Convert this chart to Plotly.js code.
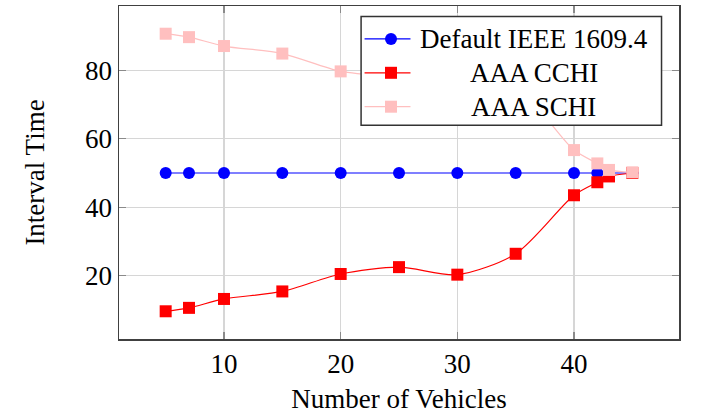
<!DOCTYPE html>
<html>
<head>
<meta charset="utf-8">
<script src="https://cdn.plot.ly/plotly-3.0.1.min.js"></script>
<style>
  html, body { margin: 0; padding: 0; background: #ffffff; }
  #chart { width: 704px; height: 414px; }
</style>
</head>
<body>
<div id="chart"></div>
<script>
// Number of vehicles on the x axis
const vehicles = [5, 7, 10, 15, 20, 25, 30, 35, 40, 42, 43, 45];

// Interval time per scheme
const defaultIEEE = [50, 50, 50, 50, 50, 50, 50, 50, 50, 50, 50, 50];
const aaaCCHI = [9.6, 10.6, 13.2, 15.4, 20.5, 22.5, 20.3, 26.4, 43.5, 47.3, 49.0, 50.0];
const aaaSCHI = [90.7, 89.7, 87.1, 84.9, 79.7, 78.2, 77.0, 75.0, 56.7, 52.8, 50.9, 50.2];

const seriesNames = ['Default IEEE 1609.4', 'AAA CCHI', 'AAA SCHI'];
const seriesColors = ['#0000ff', '#ff0000', '#ffbfbf'];
const seriesSymbols = ['circle', 'square', 'square'];
const xTicks = [10, 20, 30, 40];
const yTicks = [20, 40, 60, 80];

const serif = 'Liberation Serif, Times New Roman, serif';
const fs = 27;

const seriesData = [defaultIEEE, aaaCCHI, aaaSCHI];
const traces = seriesData.map((ys, i) => ({
  x: vehicles, y: ys, name: seriesNames[i],
  mode: 'lines+markers',
  line: i === 0
    ? { color: seriesColors[i], width: 1.2 }
    : { color: seriesColors[i], width: 1.2, shape: 'spline', smoothing: 0.8 },
  marker: { symbol: seriesSymbols[i], size: 12, color: seriesColors[i] }
}));

// Legend box in the upper right, drawn in paper coordinates
const box = { x0: 0.4323, x1: 0.9688, y0: 0.6422, y1: 0.9686 };
const rowY = [0.9012, 0.7994, 0.6976];
const sampleX = [0.4385, 0.5205];
const markX = 0.4857;
const textX = 0.7406;

const shapes = [{
  type: 'rect', xref: 'paper', yref: 'paper', layer: 'above',
  x0: box.x0, x1: box.x1, y0: box.y0, y1: box.y1,
  fillcolor: '#ffffff', line: { color: '#333333', width: 1.5 }
}];
const annotations = [];
seriesNames.forEach((name, i) => {
  shapes.push({
    type: 'line', xref: 'paper', yref: 'paper', layer: 'above',
    x0: sampleX[0], x1: sampleX[1], y0: rowY[i], y1: rowY[i],
    line: { color: seriesColors[i], width: 1.2 }
  });
  shapes.push({
    type: seriesSymbols[i] === 'circle' ? 'circle' : 'rect',
    xref: 'paper', yref: 'paper', layer: 'above',
    xsizemode: 'pixel', ysizemode: 'pixel',
    xanchor: markX, yanchor: rowY[i],
    x0: -6, x1: 6, y0: -6, y1: 6,
    fillcolor: seriesColors[i], line: { width: 0 }
  });
  annotations.push({
    xref: 'paper', yref: 'paper', x: textX, y: rowY[i],
    xanchor: 'center', yanchor: 'middle', showarrow: false,
    text: name, font: { family: serif, size: fs, color: '#000000' }
  });
});

const axisCommon = {
  showline: true, mirror: 'ticks', linecolor: '#404040', linewidth: 1.5,
  showgrid: true, gridcolor: '#d6d6d6', gridwidth: 1.2,
  zeroline: false,
  ticks: 'inside', ticklen: 7, tickwidth: 1.2, tickcolor: '#8a8a8a',
  tickfont: { family: serif, size: fs, color: '#000000' }
};

const layout = {
  width: 704, height: 414,
  margin: { l: 118.5, r: 24.5, t: 5.5, b: 74.5 },
  paper_bgcolor: '#ffffff', plot_bgcolor: '#ffffff',
  showlegend: false,
  xaxis: Object.assign({}, axisCommon, {
    range: [1, 49], tickvals: xTicks, ticktext: xTicks.map(String),
    title: { text: 'Number of Vehicles', font: { family: serif, size: fs, color: '#000000' }, standoff: 12 }
  }),
  yaxis: Object.assign({}, axisCommon, {
    range: [1.5, 98.8], tickvals: yTicks, ticktext: yTicks.map(String),
    title: { text: 'Interval Time', font: { family: serif, size: fs, color: '#000000' }, standoff: 32 }
  }),
  shapes: shapes,
  annotations: annotations
};

Plotly.newPlot('chart', traces, layout, { staticPlot: true });
</script>
</body>
</html>
